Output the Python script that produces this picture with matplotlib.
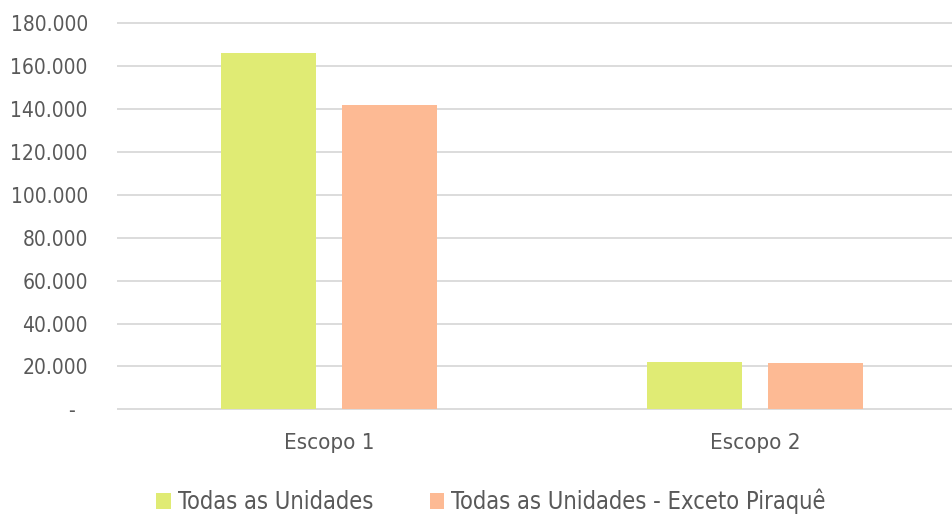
import numpy as np
import matplotlib
matplotlib.use("Agg")
import matplotlib.pyplot as plt

# data
categories = ["Escopo 1", "Escopo 2"]
series_names = ["Todas as Unidades", "Todas as Unidades - Exceto Piraquê"]
todas = [166100, 22050]
exceto = [141700, 21600]
y_ticks = [0, 20000, 40000, 60000, 80000, 100000, 120000, 140000, 160000, 180000]

GREEN = "#E0EB74"
ORANGE = "#FDBA94"
TEXT = "#595959"
GRID = "#D9D9D9"


def fmt(v):
    if v == 0:
        return "-  "
    return f"{v:,.0f}".replace(",", ".")


plt.rcParams["font.family"] = ["DejaVu Sans"]
plt.rcParams["font.stretch"] = "condensed"

W, H = 952, 514
fig = plt.figure(figsize=(W / 100, H / 100), dpi=100)
top_px, bot_px = 22.2, 410.4
ax = fig.add_axes([117 / W, 1 - bot_px / H, (W - 117) / W, (bot_px - top_px) / H])

x = np.arange(len(categories))
bw = 0.223
off = 0.142
ax.bar(x - off, todas, bw, color=GREEN, label=series_names[0], zorder=3)
ax.bar(x + off, exceto, bw, color=ORANGE, label=series_names[1], zorder=3)

ax.set_xlim(-0.498, 1.4624)
ax.set_ylim(-500, 180500)
ax.set_yticks(y_ticks)
ax.set_yticklabels([fmt(v) for v in y_ticks])
ax.set_xticks(x)
ax.set_xticklabels(categories)

ax.grid(axis="y", color=GRID, linewidth=1.3, zorder=0)
for s in ax.spines.values():
    s.set_visible(False)
ax.tick_params(axis="y", length=0, pad=21, labelsize=15, labelcolor=TEXT)
ax.tick_params(axis="x", length=0, pad=16.5, labelsize=16, labelcolor=TEXT)

fig.legend(loc="center left", bbox_to_anchor=(156 / W, 1 - 501.5 / H),
           ncol=2, frameon=False, fontsize=17, labelcolor=TEXT,
           handlelength=0.62, handleheight=0.62, handletextpad=0.3,
           columnspacing=2.4, borderpad=0, borderaxespad=0)

fig.savefig("out.png", dpi=100)
